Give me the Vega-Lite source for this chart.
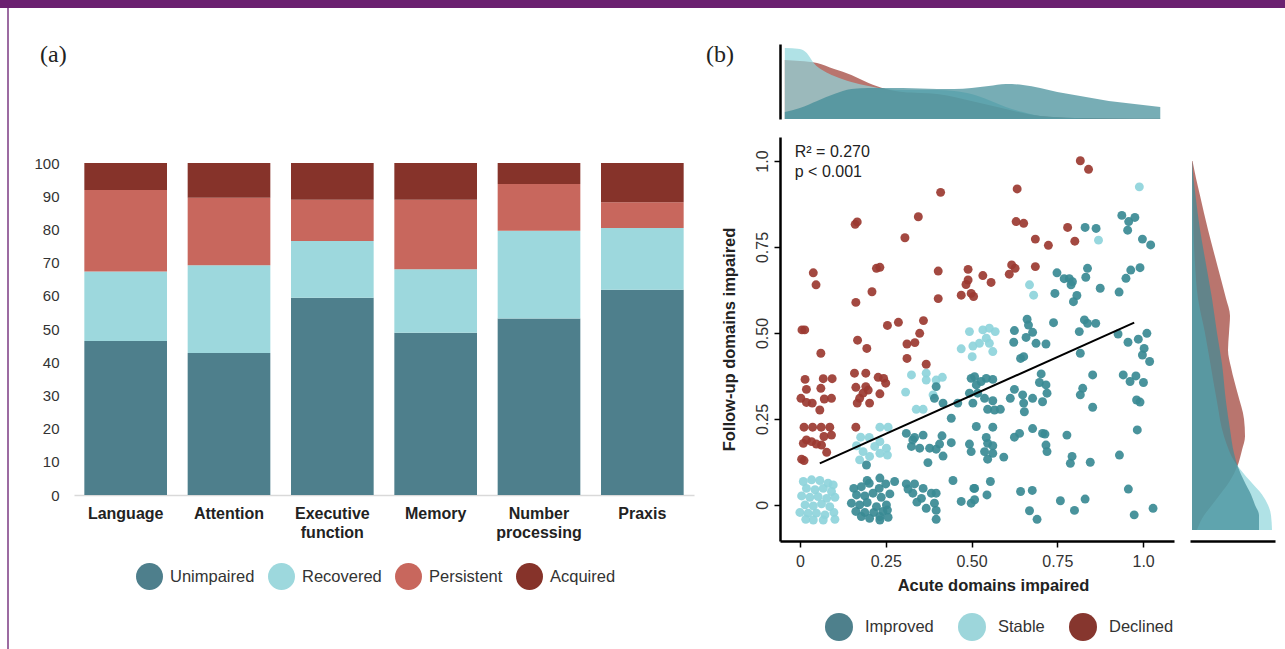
{
"$schema": "https://vega.github.io/schema/vega-lite/v6.json",
"padding": 0,
"background": "white",
"spacing": 0,
"bounds": "flush",
"resolve": {"scale": {"x": "independent", "y": "independent", "color": "independent", "fill": "independent"}, "legend": {"color": "independent", "fill": "independent"}},
"config": {"view": {"stroke": null}, "axis": {"labelFont": "Liberation Sans", "titleFont": "Liberation Sans"}, "legend": {"labelFont": "Liberation Sans"}, "text": {"font": "Liberation Sans"}, "title": {"font": "Liberation Serif"}},
"datasets": {
"bars": [
{"domain":"Language","status":"Unimpaired","ord":1,"pct":46.4},{"domain":"Language","status":"Recovered","ord":2,"pct":20.9},{"domain":"Language","status":"Persistent","ord":3,"pct":24.6},{"domain":"Language","status":"Acquired","ord":4,"pct":8.1},
{"domain":"Attention","status":"Unimpaired","ord":1,"pct":42.8},{"domain":"Attention","status":"Recovered","ord":2,"pct":26.4},{"domain":"Attention","status":"Persistent","ord":3,"pct":20.3},{"domain":"Attention","status":"Acquired","ord":4,"pct":10.5},
{"domain":"Executive function","status":"Unimpaired","ord":1,"pct":59.4},{"domain":"Executive function","status":"Recovered","ord":2,"pct":17.1},{"domain":"Executive function","status":"Persistent","ord":3,"pct":12.4},{"domain":"Executive function","status":"Acquired","ord":4,"pct":11.1},
{"domain":"Memory","status":"Unimpaired","ord":1,"pct":48.9},{"domain":"Memory","status":"Recovered","ord":2,"pct":19.1},{"domain":"Memory","status":"Persistent","ord":3,"pct":20.9},{"domain":"Memory","status":"Acquired","ord":4,"pct":11.1},
{"domain":"Number processing","status":"Unimpaired","ord":1,"pct":53.2},{"domain":"Number processing","status":"Recovered","ord":2,"pct":26.4},{"domain":"Number processing","status":"Persistent","ord":3,"pct":14.1},{"domain":"Number processing","status":"Acquired","ord":4,"pct":6.3},
{"domain":"Praxis","status":"Unimpaired","ord":1,"pct":61.8},{"domain":"Praxis","status":"Recovered","ord":2,"pct":18.6},{"domain":"Praxis","status":"Persistent","ord":3,"pct":7.8},{"domain":"Praxis","status":"Acquired","ord":4,"pct":11.8}
],
"groups": [{"g":"Improved"},{"g":"Stable"},{"g":"Declined"}],
"pts": [
{"a":0.410,"f":0.909,"g":"Declined"},{"a":0.161,"f":0.816,"g":"Declined"},{"a":0.167,"f":0.823,"g":"Declined"},{"a":0.345,"f":0.838,"g":"Declined"},{"a":0.306,"f":0.777,"g":"Declined"},{"a":0.039,"f":0.675,"g":"Declined"},{"a":0.047,"f":0.640,"g":"Declined"},{"a":0.223,"f":0.688,"g":"Declined"},{"a":0.233,"f":0.691,"g":"Declined"},{"a":0.210,"f":0.620,"g":"Declined"},{"a":0.163,"f":0.589,"g":"Declined"},{"a":0.403,"f":0.680,"g":"Declined"},{"a":0.403,"f":0.600,"g":"Declined"},{"a":0.490,"f":0.685,"g":"Declined"},{"a":0.490,"f":0.654,"g":"Declined"},{"a":0.484,"f":0.641,"g":"Declined"},{"a":0.470,"f":0.610,"g":"Declined"},{"a":0.499,"f":0.615,"g":"Declined"},{"a":0.506,"f":0.606,"g":"Declined"},{"a":0.006,"f":0.509,"g":"Declined"},{"a":0.014,"f":0.509,"g":"Declined"},{"a":0.061,"f":0.441,"g":"Declined"},{"a":0.168,"f":0.479,"g":"Declined"},{"a":0.195,"f":0.455,"g":"Declined"},{"a":0.255,"f":0.522,"g":"Declined"},{"a":0.287,"f":0.531,"g":"Declined"},{"a":0.360,"f":0.536,"g":"Declined"},{"a":0.312,"f":0.468,"g":"Declined"},{"a":0.335,"f":0.472,"g":"Declined"},{"a":0.349,"f":0.499,"g":"Declined"},{"a":0.312,"f":0.426,"g":"Declined"},{"a":0.368,"f":0.409,"g":"Declined"},{"a":0.015,"f":0.365,"g":"Declined"},{"a":0.068,"f":0.367,"g":"Declined"},{"a":0.094,"f":0.367,"g":"Declined"},{"a":0.019,"f":0.336,"g":"Declined"},{"a":0.061,"f":0.339,"g":"Declined"},{"a":0.003,"f":0.310,"g":"Declined"},{"a":0.019,"f":0.298,"g":"Declined"},{"a":0.036,"f":0.296,"g":"Declined"},{"a":0.071,"f":0.308,"g":"Declined"},{"a":0.092,"f":0.310,"g":"Declined"},{"a":0.058,"f":0.276,"g":"Declined"},{"a":0.159,"f":0.383,"g":"Declined"},{"a":0.192,"f":0.383,"g":"Declined"},{"a":0.228,"f":0.371,"g":"Declined"},{"a":0.244,"f":0.368,"g":"Declined"},{"a":0.250,"f":0.354,"g":"Declined"},{"a":0.163,"f":0.342,"g":"Declined"},{"a":0.192,"f":0.344,"g":"Declined"},{"a":0.199,"f":0.334,"g":"Declined"},{"a":0.184,"f":0.325,"g":"Declined"},{"a":0.174,"f":0.310,"g":"Declined"},{"a":0.203,"f":0.296,"g":"Declined"},{"a":0.167,"f":0.296,"g":"Declined"},{"a":0.233,"f":0.323,"g":"Declined"},{"a":0.012,"f":0.226,"g":"Declined"},{"a":0.037,"f":0.226,"g":"Declined"},{"a":0.062,"f":0.226,"g":"Declined"},{"a":0.087,"f":0.226,"g":"Declined"},{"a":0.019,"f":0.189,"g":"Declined"},{"a":0.010,"f":0.179,"g":"Declined"},{"a":0.034,"f":0.184,"g":"Declined"},{"a":0.048,"f":0.177,"g":"Declined"},{"a":0.063,"f":0.174,"g":"Declined"},{"a":0.078,"f":0.153,"g":"Declined"},{"a":0.070,"f":0.199,"g":"Declined"},{"a":0.092,"f":0.203,"g":"Declined"},{"a":0.005,"f":0.133,"g":"Declined"},{"a":0.012,"f":0.129,"g":"Declined"},{"a":0.163,"f":0.226,"g":"Declined"},{"a":0.817,"f":1.001,"g":"Declined"},{"a":0.841,"f":0.976,"g":"Declined"},{"a":0.633,"f":0.919,"g":"Declined"},{"a":0.630,"f":0.824,"g":"Declined"},{"a":0.652,"f":0.819,"g":"Declined"},{"a":0.686,"f":0.773,"g":"Declined"},{"a":0.724,"f":0.755,"g":"Declined"},{"a":0.780,"f":0.807,"g":"Declined"},{"a":0.801,"f":0.767,"g":"Declined"},{"a":0.617,"f":0.698,"g":"Declined"},{"a":0.627,"f":0.688,"g":"Declined"},{"a":0.610,"f":0.671,"g":"Declined"},{"a":0.686,"f":0.693,"g":"Declined"},{"a":0.533,"f":0.667,"g":"Declined"},{"a":0.557,"f":0.647,"g":"Declined"},
{"a":0.494,"f":0.504,"g":"Stable"},{"a":0.470,"f":0.454,"g":"Stable"},{"a":0.504,"f":0.462,"g":"Stable"},{"a":0.502,"f":0.431,"g":"Stable"},{"a":0.325,"f":0.378,"g":"Stable"},{"a":0.368,"f":0.383,"g":"Stable"},{"a":0.368,"f":0.363,"g":"Stable"},{"a":0.397,"f":0.363,"g":"Stable"},{"a":0.415,"f":0.371,"g":"Stable"},{"a":0.308,"f":0.328,"g":"Stable"},{"a":0.339,"f":0.278,"g":"Stable"},{"a":0.359,"f":0.278,"g":"Stable"},{"a":0.388,"f":0.320,"g":"Stable"},{"a":0.233,"f":0.226,"g":"Stable"},{"a":0.257,"f":0.226,"g":"Stable"},{"a":0.177,"f":0.197,"g":"Stable"},{"a":0.202,"f":0.196,"g":"Stable"},{"a":0.233,"f":0.184,"g":"Stable"},{"a":0.218,"f":0.170,"g":"Stable"},{"a":0.165,"f":0.172,"g":"Stable"},{"a":0.184,"f":0.155,"g":"Stable"},{"a":0.255,"f":0.145,"g":"Stable"},{"a":0.174,"f":0.131,"g":"Stable"},{"a":0.203,"f":0.141,"g":"Stable"},{"a":0.233,"f":0.150,"g":"Stable"},{"a":0.252,"f":0.165,"g":"Stable"},
{"a":0.010,"f":0.068,"g":"Stable"},{"a":0.034,"f":0.073,"g":"Stable"},{"a":0.058,"f":0.071,"g":"Stable"},{"a":0.082,"f":0.063,"g":"Stable"},{"a":0.097,"f":0.058,"g":"Stable"},{"a":0.019,"f":0.048,"g":"Stable"},{"a":0.044,"f":0.044,"g":"Stable"},{"a":0.068,"f":0.048,"g":"Stable"},{"a":0.092,"f":0.039,"g":"Stable"},{"a":0.005,"f":0.026,"g":"Stable"},{"a":0.029,"f":0.022,"g":"Stable"},{"a":0.053,"f":0.024,"g":"Stable"},{"a":0.078,"f":0.019,"g":"Stable"},{"a":0.102,"f":0.022,"g":"Stable"},{"a":0.015,"f":0.000,"g":"Stable"},{"a":0.039,"f":-0.003,"g":"Stable"},{"a":0.063,"f":0.003,"g":"Stable"},{"a":0.087,"f":-0.005,"g":"Stable"},{"a":0.000,"f":-0.022,"g":"Stable"},{"a":0.024,"f":-0.024,"g":"Stable"},{"a":0.048,"f":-0.024,"g":"Stable"},{"a":0.073,"f":-0.029,"g":"Stable"},{"a":0.099,"f":-0.022,"g":"Stable"},{"a":0.017,"f":-0.042,"g":"Stable"},{"a":0.039,"f":-0.044,"g":"Stable"},{"a":0.068,"f":-0.044,"g":"Stable"},{"a":0.102,"f":-0.042,"g":"Stable"},
{"a":0.989,"f":0.925,"g":"Stable"},{"a":0.870,"f":0.770,"g":"Stable"},{"a":0.669,"f":0.640,"g":"Stable"},{"a":0.681,"f":0.610,"g":"Stable"},{"a":0.533,"f":0.509,"g":"Stable"},{"a":0.552,"f":0.514,"g":"Stable"},{"a":0.569,"f":0.504,"g":"Stable"},{"a":0.523,"f":0.470,"g":"Stable"},{"a":0.552,"f":0.470,"g":"Stable"},{"a":0.562,"f":0.446,"g":"Stable"},{"a":0.543,"f":0.485,"g":"Stable"},
{"a":0.157,"f":0.048,"g":"Improved"},{"a":0.179,"f":0.053,"g":"Improved"},{"a":0.202,"f":0.063,"g":"Improved"},{"a":0.231,"f":0.048,"g":"Improved"},{"a":0.250,"f":0.061,"g":"Improved"},{"a":0.276,"f":0.068,"g":"Improved"},{"a":0.165,"f":0.029,"g":"Improved"},{"a":0.189,"f":0.026,"g":"Improved"},{"a":0.213,"f":0.034,"g":"Improved"},{"a":0.237,"f":0.022,"g":"Improved"},{"a":0.262,"f":0.032,"g":"Improved"},{"a":0.150,"f":0.005,"g":"Improved"},{"a":0.174,"f":0.000,"g":"Improved"},{"a":0.196,"f":0.007,"g":"Improved"},{"a":0.223,"f":-0.005,"g":"Improved"},{"a":0.252,"f":0.000,"g":"Improved"},{"a":0.163,"f":-0.019,"g":"Improved"},{"a":0.189,"f":-0.022,"g":"Improved"},{"a":0.215,"f":-0.022,"g":"Improved"},{"a":0.242,"f":-0.019,"g":"Improved"},{"a":0.179,"f":-0.034,"g":"Improved"},{"a":0.203,"f":-0.039,"g":"Improved"},{"a":0.233,"f":-0.034,"g":"Improved"},{"a":0.257,"f":-0.036,"g":"Improved"},{"a":0.233,"f":0.078,"g":"Improved"},{"a":0.196,"f":0.071,"g":"Improved"},{"a":0.255,"f":-0.015,"g":"Improved"},{"a":0.233,"f":-0.044,"g":"Improved"},{"a":0.194,"f":0.116,"g":"Improved"},
{"a":0.310,"f":0.061,"g":"Improved"},{"a":0.334,"f":0.061,"g":"Improved"},{"a":0.359,"f":0.048,"g":"Improved"},{"a":0.329,"f":0.034,"g":"Improved"},{"a":0.354,"f":0.019,"g":"Improved"},{"a":0.383,"f":0.034,"g":"Improved"},{"a":0.397,"f":0.034,"g":"Improved"},{"a":0.392,"f":0.005,"g":"Improved"},{"a":0.368,"f":-0.010,"g":"Improved"},{"a":0.397,"f":-0.016,"g":"Improved"},{"a":0.397,"f":-0.042,"g":"Improved"},{"a":0.341,"f":0.008,"g":"Improved"},{"a":0.315,"f":0.046,"g":"Improved"},{"a":0.446,"f":0.071,"g":"Improved"},{"a":0.470,"f":0.010,"g":"Improved"},{"a":0.507,"f":0.048,"g":"Improved"},{"a":0.499,"f":0.005,"g":"Improved"},
{"a":0.310,"f":0.208,"g":"Improved"},{"a":0.334,"f":0.196,"g":"Improved"},{"a":0.359,"f":0.203,"g":"Improved"},{"a":0.325,"f":0.170,"g":"Improved"},{"a":0.349,"f":0.165,"g":"Improved"},{"a":0.378,"f":0.165,"g":"Improved"},{"a":0.407,"f":0.177,"g":"Improved"},{"a":0.414,"f":0.201,"g":"Improved"},{"a":0.441,"f":0.181,"g":"Improved"},{"a":0.397,"f":0.162,"g":"Improved"},{"a":0.417,"f":0.142,"g":"Improved"},{"a":0.373,"f":0.123,"g":"Improved"},{"a":0.329,"f":0.189,"g":"Improved"},{"a":0.494,"f":0.177,"g":"Improved"},{"a":0.499,"f":0.155,"g":"Improved"},{"a":0.514,"f":0.228,"g":"Improved"},
{"a":0.397,"f":0.344,"g":"Improved"},{"a":0.392,"f":0.310,"g":"Improved"},{"a":0.417,"f":0.296,"g":"Improved"},{"a":0.441,"f":0.252,"g":"Improved"},{"a":0.460,"f":0.296,"g":"Improved"},{"a":0.499,"f":0.368,"g":"Improved"},{"a":0.514,"f":0.349,"g":"Improved"},{"a":0.494,"f":0.325,"g":"Improved"},{"a":0.504,"f":0.296,"g":"Improved"},
{"a":0.938,"f":0.842,"g":"Improved"},{"a":0.958,"f":0.824,"g":"Improved"},{"a":0.976,"f":0.836,"g":"Improved"},{"a":0.955,"f":0.799,"g":"Improved"},{"a":0.998,"f":0.773,"g":"Improved"},{"a":1.022,"f":0.756,"g":"Improved"},{"a":0.831,"f":0.807,"g":"Improved"},{"a":0.863,"f":0.804,"g":"Improved"},
{"a":0.749,"f":0.675,"g":"Improved"},{"a":0.770,"f":0.658,"g":"Improved"},{"a":0.785,"f":0.658,"g":"Improved"},{"a":0.794,"f":0.649,"g":"Improved"},{"a":0.790,"f":0.640,"g":"Improved"},{"a":0.838,"f":0.688,"g":"Improved"},{"a":0.833,"f":0.662,"g":"Improved"},{"a":0.875,"f":0.630,"g":"Improved"},{"a":0.743,"f":0.615,"g":"Improved"},{"a":0.807,"f":0.609,"g":"Improved"},{"a":0.797,"f":0.591,"g":"Improved"},
{"a":0.950,"f":0.659,"g":"Improved"},{"a":0.964,"f":0.683,"g":"Improved"},{"a":0.991,"f":0.690,"g":"Improved"},{"a":0.930,"f":0.619,"g":"Improved"},
{"a":0.662,"f":0.540,"g":"Improved"},{"a":0.666,"f":0.523,"g":"Improved"},{"a":0.625,"f":0.507,"g":"Improved"},{"a":0.678,"f":0.502,"g":"Improved"},{"a":0.659,"f":0.487,"g":"Improved"},{"a":0.739,"f":0.530,"g":"Improved"},{"a":0.829,"f":0.538,"g":"Improved"},{"a":0.838,"f":0.528,"g":"Improved"},{"a":0.862,"f":0.528,"g":"Improved"},{"a":0.814,"f":0.504,"g":"Improved"},
{"a":0.623,"f":0.473,"g":"Improved"},{"a":0.688,"f":0.470,"g":"Improved"},{"a":0.717,"f":0.468,"g":"Improved"},{"a":0.643,"f":0.426,"g":"Improved"},{"a":0.652,"f":0.431,"g":"Improved"},{"a":0.817,"f":0.441,"g":"Improved"},
{"a":0.927,"f":0.497,"g":"Improved"},{"a":0.956,"f":0.473,"g":"Improved"},{"a":0.986,"f":0.482,"g":"Improved"},{"a":1.011,"f":0.499,"g":"Improved"},{"a":1.003,"f":0.455,"g":"Improved"},{"a":0.998,"f":0.436,"g":"Improved"},{"a":1.019,"f":0.417,"g":"Improved"},
{"a":0.703,"f":0.381,"g":"Improved"},{"a":0.698,"f":0.356,"g":"Improved"},{"a":0.717,"f":0.349,"g":"Improved"},{"a":0.720,"f":0.325,"g":"Improved"},{"a":0.707,"f":0.300,"g":"Improved"},{"a":0.678,"f":0.310,"g":"Improved"},{"a":0.649,"f":0.320,"g":"Improved"},{"a":0.652,"f":0.296,"g":"Improved"},{"a":0.654,"f":0.271,"g":"Improved"},{"a":0.625,"f":0.336,"g":"Improved"},{"a":0.613,"f":0.310,"g":"Improved"},
{"a":0.853,"f":0.378,"g":"Improved"},{"a":0.824,"f":0.339,"g":"Improved"},{"a":0.817,"f":0.320,"g":"Improved"},{"a":0.853,"f":0.284,"g":"Improved"},
{"a":0.942,"f":0.378,"g":"Improved"},{"a":0.962,"f":0.359,"g":"Improved"},{"a":0.979,"f":0.375,"g":"Improved"},{"a":1.001,"f":0.356,"g":"Improved"},{"a":0.981,"f":0.305,"g":"Improved"},{"a":0.991,"f":0.299,"g":"Improved"},{"a":0.983,"f":0.218,"g":"Improved"},
{"a":0.509,"f":0.373,"g":"Improved"},{"a":0.528,"f":0.359,"g":"Improved"},{"a":0.543,"f":0.368,"g":"Improved"},{"a":0.562,"f":0.365,"g":"Improved"},{"a":0.518,"f":0.325,"g":"Improved"},{"a":0.538,"f":0.310,"g":"Improved"},{"a":0.562,"f":0.303,"g":"Improved"},{"a":0.547,"f":0.278,"g":"Improved"},{"a":0.567,"f":0.276,"g":"Improved"},{"a":0.584,"f":0.278,"g":"Improved"},
{"a":0.562,"f":0.226,"g":"Improved"},{"a":0.543,"f":0.196,"g":"Improved"},{"a":0.547,"f":0.179,"g":"Improved"},{"a":0.562,"f":0.172,"g":"Improved"},{"a":0.538,"f":0.155,"g":"Improved"},{"a":0.562,"f":0.150,"g":"Improved"},{"a":0.547,"f":0.133,"g":"Improved"},{"a":0.594,"f":0.139,"g":"Improved"},
{"a":0.625,"f":0.197,"g":"Improved"},{"a":0.640,"f":0.208,"g":"Improved"},{"a":0.678,"f":0.222,"g":"Improved"},{"a":0.707,"f":0.208,"g":"Improved"},{"a":0.714,"f":0.206,"g":"Improved"},{"a":0.717,"f":0.174,"g":"Improved"},{"a":0.720,"f":0.155,"g":"Improved"},{"a":0.778,"f":0.203,"g":"Improved"},{"a":0.793,"f":0.141,"g":"Improved"},{"a":0.788,"f":0.121,"g":"Improved"},{"a":0.846,"f":0.124,"g":"Improved"},{"a":0.931,"f":0.145,"g":"Improved"},
{"a":0.555,"f":0.068,"g":"Improved"},{"a":0.509,"f":0.048,"g":"Improved"},{"a":0.545,"f":0.029,"g":"Improved"},{"a":0.509,"f":0.015,"g":"Improved"},{"a":0.643,"f":0.039,"g":"Improved"},{"a":0.677,"f":0.042,"g":"Improved"},{"a":0.669,"f":-0.017,"g":"Improved"},{"a":0.691,"f":-0.042,"g":"Improved"},{"a":0.759,"f":0.012,"g":"Improved"},{"a":0.800,"f":-0.016,"g":"Improved"},{"a":0.831,"f":0.017,"g":"Improved"},{"a":0.957,"f":0.046,"g":"Improved"},{"a":0.974,"f":-0.029,"g":"Improved"},{"a":1.029,"f":-0.010,"g":"Improved"}
],
"topDens": [
{"a":-0.044,"d":7,"g":"Improved"},{"a":0,"d":11,"g":"Improved"},{"a":0.05,"d":18,"g":"Improved"},{"a":0.1,"d":25,"g":"Improved"},{"a":0.15,"d":30,"g":"Improved"},{"a":0.2,"d":31,"g":"Improved"},{"a":0.25,"d":31,"g":"Improved"},{"a":0.3,"d":31,"g":"Improved"},{"a":0.35,"d":30.5,"g":"Improved"},{"a":0.4,"d":30,"g":"Improved"},{"a":0.45,"d":30,"g":"Improved"},{"a":0.5,"d":31,"g":"Improved"},{"a":0.55,"d":33,"g":"Improved"},{"a":0.6,"d":35,"g":"Improved"},{"a":0.65,"d":34,"g":"Improved"},{"a":0.7,"d":31,"g":"Improved"},{"a":0.75,"d":27,"g":"Improved"},{"a":0.8,"d":24,"g":"Improved"},{"a":0.85,"d":21,"g":"Improved"},{"a":0.9,"d":18,"g":"Improved"},{"a":0.95,"d":16,"g":"Improved"},{"a":1.0,"d":14,"g":"Improved"},{"a":1.05,"d":12,"g":"Improved"},
{"a":-0.044,"d":59,"g":"Declined"},{"a":0,"d":58,"g":"Declined"},{"a":0.05,"d":56,"g":"Declined"},{"a":0.1,"d":50,"g":"Declined"},{"a":0.15,"d":44,"g":"Declined"},{"a":0.2,"d":36,"g":"Declined"},{"a":0.25,"d":30,"g":"Declined"},{"a":0.3,"d":27,"g":"Declined"},{"a":0.35,"d":26,"g":"Declined"},{"a":0.4,"d":25,"g":"Declined"},{"a":0.45,"d":22,"g":"Declined"},{"a":0.5,"d":18,"g":"Declined"},{"a":0.55,"d":14,"g":"Declined"},{"a":0.6,"d":10,"g":"Declined"},{"a":0.65,"d":6,"g":"Declined"},{"a":0.7,"d":3,"g":"Declined"},{"a":0.8,"d":1,"g":"Declined"},{"a":0.9,"d":0.5,"g":"Declined"},{"a":1.05,"d":0.2,"g":"Declined"},
{"a":-0.044,"d":71,"g":"Stable"},{"a":0,"d":70,"g":"Stable"},{"a":0.02,"d":66,"g":"Stable"},{"a":0.04,"d":56,"g":"Stable"},{"a":0.07,"d":48,"g":"Stable"},{"a":0.1,"d":43,"g":"Stable"},{"a":0.15,"d":37,"g":"Stable"},{"a":0.2,"d":33,"g":"Stable"},{"a":0.25,"d":30,"g":"Stable"},{"a":0.3,"d":29,"g":"Stable"},{"a":0.35,"d":29,"g":"Stable"},{"a":0.4,"d":29,"g":"Stable"},{"a":0.45,"d":28,"g":"Stable"},{"a":0.5,"d":25,"g":"Stable"},{"a":0.55,"d":19,"g":"Stable"},{"a":0.6,"d":12,"g":"Stable"},{"a":0.65,"d":7,"g":"Stable"},{"a":0.7,"d":3,"g":"Stable"},{"a":0.8,"d":1,"g":"Stable"},{"a":0.9,"d":0.3,"g":"Stable"},{"a":1.05,"d":0,"g":"Stable"}
],
"rightDens": [
{"f":1.0,"d":0,"g":"Improved"},{"f":0.95,"d":1.5,"g":"Improved"},{"f":0.9,"d":3.5,"g":"Improved"},{"f":0.8,"d":8,"g":"Improved"},{"f":0.7,"d":14,"g":"Improved"},{"f":0.6,"d":20,"g":"Improved"},{"f":0.5,"d":25,"g":"Improved"},{"f":0.41,"d":30,"g":"Improved"},{"f":0.3,"d":34,"g":"Improved"},{"f":0.22,"d":38,"g":"Improved"},{"f":0.15,"d":42,"g":"Improved"},{"f":0.11,"d":46,"g":"Improved"},{"f":0.07,"d":52,"g":"Improved"},{"f":0.03,"d":59,"g":"Improved"},{"f":0,"d":63,"g":"Improved"},{"f":-0.03,"d":67,"g":"Improved"},{"f":-0.073,"d":67,"g":"Improved"},
{"f":1.0,"d":0.5,"g":"Declined"},{"f":0.95,"d":4,"g":"Declined"},{"f":0.9,"d":8,"g":"Declined"},{"f":0.8,"d":16,"g":"Declined"},{"f":0.7,"d":25,"g":"Declined"},{"f":0.6,"d":34,"g":"Declined"},{"f":0.55,"d":38,"g":"Declined"},{"f":0.5,"d":37,"g":"Declined"},{"f":0.45,"d":36,"g":"Declined"},{"f":0.4,"d":39,"g":"Declined"},{"f":0.32,"d":46,"g":"Declined"},{"f":0.25,"d":52,"g":"Declined"},{"f":0.2,"d":53,"g":"Declined"},{"f":0.16,"d":50,"g":"Declined"},{"f":0.11,"d":45,"g":"Declined"},{"f":0.07,"d":38,"g":"Declined"},{"f":0.03,"d":28,"g":"Declined"},{"f":0,"d":20,"g":"Declined"},{"f":-0.04,"d":10,"g":"Declined"},{"f":-0.073,"d":5,"g":"Declined"},
{"f":1.0,"d":0,"g":"Stable"},{"f":0.9,"d":1,"g":"Stable"},{"f":0.8,"d":1.5,"g":"Stable"},{"f":0.7,"d":3,"g":"Stable"},{"f":0.6,"d":6,"g":"Stable"},{"f":0.5,"d":13,"g":"Stable"},{"f":0.4,"d":19,"g":"Stable"},{"f":0.3,"d":25,"g":"Stable"},{"f":0.2,"d":32,"g":"Stable"},{"f":0.12,"d":44,"g":"Stable"},{"f":0.07,"d":58,"g":"Stable"},{"f":0.03,"d":70,"g":"Stable"},{"f":0,"d":76,"g":"Stable"},{"f":-0.03,"d":79,"g":"Stable"},{"f":-0.073,"d":80,"g":"Stable"}
]
},
"vconcat": [
{"width": 1285, "height": 8, "data": {"values": [{}]}, "mark": {"type": "point", "opacity": 0}, "view": {"fill": "#6B2170", "stroke": null}},
{"hconcat": [
  {"width": 7, "height": 10, "data": {"values": [{}]}, "mark": {"type": "point", "opacity": 0}},
  {"width": 2, "height": 641, "data": {"values": [{}]}, "mark": {"type": "point", "opacity": 0}, "view": {"fill": "#9C6BA1", "stroke": null}},
  {"width": 65, "height": 10, "data": {"values": [{}]}, "mark": {"type": "point", "opacity": 0}},
  {"vconcat": [
    {"width": 620, "height": 155, "data": {"values": [{}]}, "mark": {"type": "point", "opacity": 0},
     "title": {"text": "(a)", "anchor": "start", "orient": "top", "offset": 0, "dx": -34, "dy": 78, "baseline": "alphabetic", "fontSize": 24, "fontWeight": "normal", "color": "#222", "font": "Liberation Serif"}},
    {"width": 620, "height": 332, "data": {"name": "bars"}, "mark": {"type": "bar"},
     "encoding": {
       "x": {"field": "domain", "type": "nominal", "sort": null, "scale": {"paddingInner": 0.2, "paddingOuter": 0.1},
             "axis": {"title": null, "labelAngle": 0, "ticks": false, "domainColor": "#d9d9d9", "domainWidth": 1.5, "labelFontWeight": "bold", "labelFontSize": 16, "labelColor": "#222", "labelPadding": 10, "labelLineHeight": 19, "labelExpr": "split(datum.label, ' ')"}},
       "y": {"field": "pct", "type": "quantitative", "stack": "zero", "scale": {"domain": [0, 100], "nice": false},
             "axis": {"title": null, "values": [0,10,20,30,40,50,60,70,80,90,100], "domain": false, "ticks": false, "grid": false, "labelFontSize": 15, "labelColor": "#333", "labelPadding": 15}},
       "color": {"field": "status", "type": "nominal", "scale": {"domain": ["Unimpaired", "Recovered", "Persistent", "Acquired"], "range": ["#4E7F8C", "#9DD8DD", "#C8675D", "#86332A"]},
                 "legend": {"title": null, "orient": "none", "legendX": 62, "legendY": 400, "direction": "horizontal", "symbolType": "circle", "symbolSize": 729, "symbolStrokeWidth": 0, "symbolOpacity": 1, "labelFontSize": 16.5, "labelColor": "#333", "columnPadding": 13, "labelOffset": 7}},
       "order": {"field": "ord"}
     }}
  ], "spacing": 0, "bounds": "flush", "resolve": {"scale": {"x": "independent", "y": "independent", "color": "independent"}}},
  {"width": 706, "height": 10, "data": {"values": [{}]}, "mark": {"type": "point", "opacity": 0}},
  {"vconcat": [
    {"width": 394, "height": 18, "data": {"name": "groups"}, "mark": {"type": "circle", "size": 0, "opacity": 1},
     "encoding": {"color": {"field": "g", "type": "nominal", "scale": {"domain": ["Improved", "Stable", "Declined"], "range": ["#4E808C", "#9DD6DB", "#86362E"]},
                  "legend": {"title": null, "orient": "none", "legendX": 45, "legendY": 605, "direction": "horizontal", "symbolType": "circle", "symbolSize": 784, "symbolOpacity": 1, "symbolStrokeWidth": 0, "labelFontSize": 16.5, "labelColor": "#333", "columnPadding": 24, "labelOffset": 12}}},
     "title": {"text": "(b)", "anchor": "start", "orient": "top", "offset": 0, "dx": -74, "dy": 78, "baseline": "alphabetic", "fontSize": 24, "fontWeight": "normal", "color": "#222", "font": "Liberation Serif"}},
    {"width": 394, "height": 75, "data": {"name": "topDens"},
     "encoding": {
       "x": {"field": "a", "type": "quantitative", "scale": {"domain": [-0.058, 1.09], "nice": false, "zero": false}, "axis": null},
       "y": {"field": "d", "type": "quantitative", "stack": null, "scale": {"domain": [0, 75], "nice": false}, "axis": {"title": null, "labels": false, "ticks": false, "grid": false, "domainColor": "black", "domainWidth": 2.5}},
       "color": {"field": "g", "type": "nominal", "scale": {"domain": ["Improved", "Stable", "Declined"], "range": ["#3D8A95", "#8ED5DC", "#9B3A31"]}, "legend": null}
     },
     "layer": [
       {"transform": [{"filter": "datum.g == 'Declined'"}], "mark": {"type": "area", "interpolate": "monotone", "opacity": 0.7}},
       {"transform": [{"filter": "datum.g == 'Stable'"}], "mark": {"type": "area", "interpolate": "monotone", "opacity": 0.7}},
       {"transform": [{"filter": "datum.g == 'Improved'"}], "mark": {"type": "area", "interpolate": "monotone", "opacity": 0.7}}
     ]},
    {"hconcat": [
      {"width": 394, "height": 404,
       "encoding": {
         "x": {"field": "a", "type": "quantitative", "scale": {"domain": [-0.058, 1.09], "nice": false, "zero": false},
               "axis": {"values": [0, 0.25, 0.5, 0.75, 1], "labelExpr": "datum.value == 0 ? '0' : datum.value == 1 ? '1.0' : format(datum.value, '.2f')", "grid": false, "domainColor": "black", "domainWidth": 2.5, "tickColor": "black", "tickSize": 6, "tickWidth": 1.5, "labelFontSize": 16, "labelColor": "#333", "labelPadding": 6, "title": "Acute domains impaired", "titleX": 213, "titleFontSize": 16.5, "titleFontWeight": "bold", "titleColor": "#222", "titlePadding": 8}},
         "y": {"field": "f", "type": "quantitative", "scale": {"domain": [-0.105, 1.07], "nice": false, "zero": false},
               "axis": {"values": [0, 0.25, 0.5, 0.75, 1], "labelExpr": "datum.value == 0 ? '0' : datum.value == 1 ? '1.0' : format(datum.value, '.2f')", "labelAngle": 270, "grid": false, "domainColor": "black", "domainWidth": 2.5, "tickColor": "black", "tickSize": 6, "tickWidth": 1.5, "labelFontSize": 16, "labelColor": "#333", "labelPadding": 4, "title": "Follow-up domains impaired", "titleFontSize": 16.5, "titleFontWeight": "bold", "titleColor": "#222", "titlePadding": 17}}
       },
       "layer": [
         {"data": {"name": "pts"}, "mark": {"type": "circle", "size": 80, "opacity": 0.92},
          "encoding": {"color": {"field": "g", "type": "nominal", "scale": {"domain": ["Improved", "Stable", "Declined"], "range": ["#3A8A94", "#8ED4DB", "#9B3A31"]}, "legend": null}}},
         {"data": {"values": [{"a": 0.058, "f": 0.121}, {"a": 0.974, "f": 0.530}]}, "mark": {"type": "line", "color": "black", "strokeWidth": 2}},
         {"data": {"values": [{"a": -0.015, "f": 1.026, "t": "R² = 0.270"}, {"a": -0.015, "f": 0.968, "t": "p < 0.001"}]},
          "mark": {"type": "text", "align": "left", "baseline": "middle", "fontSize": 16, "color": "#222"},
          "encoding": {"text": {"field": "t"}}}
       ]},
      {"width": 85, "height": 404, "data": {"name": "rightDens"},
       "encoding": {
         "y": {"field": "f", "type": "quantitative", "scale": {"domain": [-0.105, 1.07], "nice": false, "zero": false}, "axis": null},
         "x": {"field": "d", "type": "quantitative", "stack": null, "scale": {"domain": [-2, 83], "nice": false}, "axis": {"title": null, "labels": false, "ticks": false, "grid": false, "domainColor": "black", "domainWidth": 2.5}},
         "color": {"field": "g", "type": "nominal", "scale": {"domain": ["Improved", "Stable", "Declined"], "range": ["#3D8A95", "#8ED5DC", "#9B3A31"]}, "legend": null}
       },
       "layer": [
         {"transform": [{"filter": "datum.g == 'Declined'"}], "mark": {"type": "area", "orient": "horizontal", "interpolate": "monotone", "opacity": 0.7}},
         {"transform": [{"filter": "datum.g == 'Stable'"}], "mark": {"type": "area", "orient": "horizontal", "interpolate": "monotone", "opacity": 0.7}},
         {"transform": [{"filter": "datum.g == 'Improved'"}], "mark": {"type": "area", "orient": "horizontal", "interpolate": "monotone", "opacity": 0.7}}
       ]}
    ], "spacing": 16, "bounds": "flush", "resolve": {"scale": {"x": "independent", "y": "independent", "color": "independent", "fill": "independent"}, "legend": {"color": "independent", "fill": "independent"}}}
  ], "spacing": 18, "bounds": "flush", "resolve": {"scale": {"x": "independent", "y": "independent", "color": "independent", "fill": "independent"}, "legend": {"color": "independent", "fill": "independent"}}}
], "spacing": 0, "bounds": "flush", "resolve": {"scale": {"x": "independent", "y": "independent", "color": "independent", "fill": "independent"}, "legend": {"color": "independent", "fill": "independent"}}}
]
}
